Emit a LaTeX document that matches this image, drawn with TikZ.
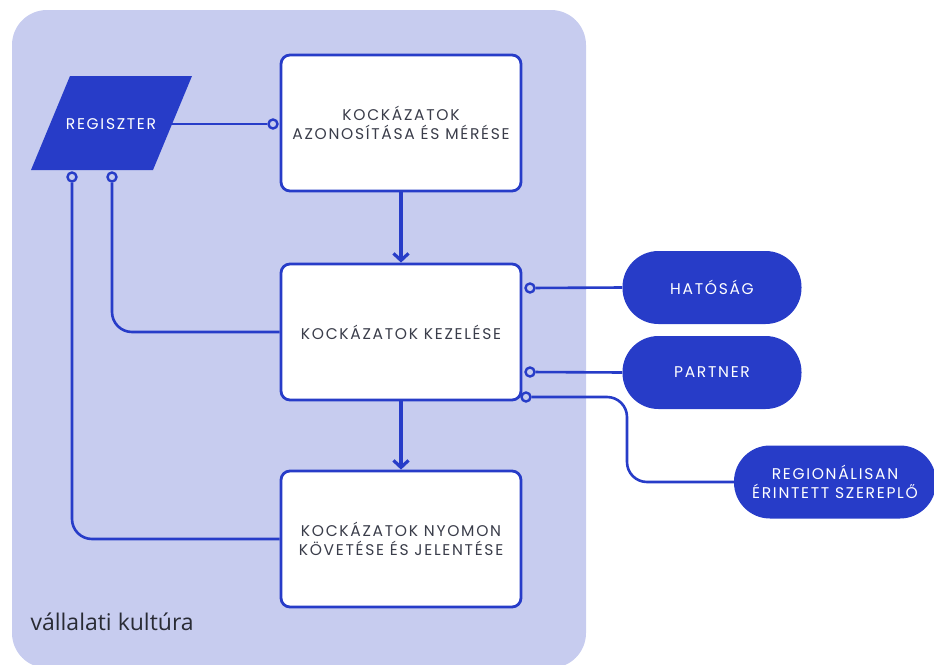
\documentclass[tikz,border=0pt]{standalone}
\usepackage{fontspec}
\setmainfont{Poppins}[LetterSpace=11]
\newfontfamily\kultfont{Open Sans}
\usetikzlibrary{arrows.meta}
\definecolor{bgl}{HTML}{C7CCEF}
\definecolor{blu}{HTML}{273CC8}
\definecolor{txt}{HTML}{3A3D4A}
\tikzset{
  stepbox/.style={draw=blu, line width=2.8pt, fill=white, rounded corners=9pt,
    minimum width=240pt, minimum height=136pt, text=txt, align=center,
    font=\fontsize{15.5}{19}\selectfont},
  pill/.style={fill=blu, rounded corners=36pt, minimum height=73pt, text=white,
    align=center, font=\fontsize{15.5}{19}\selectfont},
  circ/.style={circle, draw=blu, line width=2.4pt, fill=bgl, inner sep=0pt, minimum size=9pt},
  conn/.style={draw=blu, line width=2.6pt},
  arr/.style={draw=blu, line width=3.2pt, -{Straight Barb[length=7pt,width=15pt]}},
}
\begin{document}
\begin{tikzpicture}[x=1pt,y=-1pt]
\useasboundingbox (0,0) rectangle (934,664);
\clip (0,0) rectangle (934,664);
\fill[bgl, rounded corners=35pt] (12,10) rectangle (586,668);

% register parallelogram
\fill[blu] (70,76) -- (192,76) -- (153,170) -- (31,170) -- cycle;
\node[text=white, font=\fontsize{15.5}{19}\selectfont] (reg) at (111,124) {REGISZTER};
\coordinate (regR) at (172,124);

% boxes
\node[stepbox] (b1) at (401,123) {KOCKÁZATOK\\AZONOSÍTÁSA ÉS MÉRÉSE};
\node[stepbox] (b2) at (401,332) {KOCKÁZATOK KEZELÉSE};
\node[stepbox] (b3) at (401,539) {KOCKÁZATOK NYOMON\\KÖVETÉSE ÉS JELENTÉSE};

% pills
\node[pill, minimum width=179pt] (hat) at (712,287.5) {HATÓSÁG};
\node[pill, minimum width=179pt] (par) at (712,372.5) {PARTNER};
\node[pill, minimum width=202pt] (rgp) at (835,482) {REGIONÁLISAN\\ÉRINTETT SZEREPLŐ};

% arrows
\draw[arr] (b1) -- (b2);
\draw[arr] (b2) -- (b3);

% circles
\node[circ] (cA) at (273,124) {};
\node[circ] (cB) at (72,177) {};
\node[circ] (cC) at (112,177) {};
\node[circ] (cH) at (530,288) {};
\node[circ] (cP) at (530,372) {};
\node[circ] (cR) at (526,397) {};
\coordinate (kink) at (627,397);

% connectors
\draw[conn] (regR) -- (cA);
\draw[conn, rounded corners=20pt] (cC.south) |- (b2.west);
\draw[conn, rounded corners=20pt] (cB.south) |- (b3.west);
\draw[conn] (cH) -- (hat.west);
\draw[conn] (cP) -- (par.west);
\draw[conn, rounded corners=20pt] (cR.east) -- (kink) |- (rgp.west);

\node[anchor=base west, text=txt!70!black, font=\kultfont\fontsize{23}{26}\selectfont] (kult) at (27,630) {vállalati kultúra};
\end{tikzpicture}
\end{document}
